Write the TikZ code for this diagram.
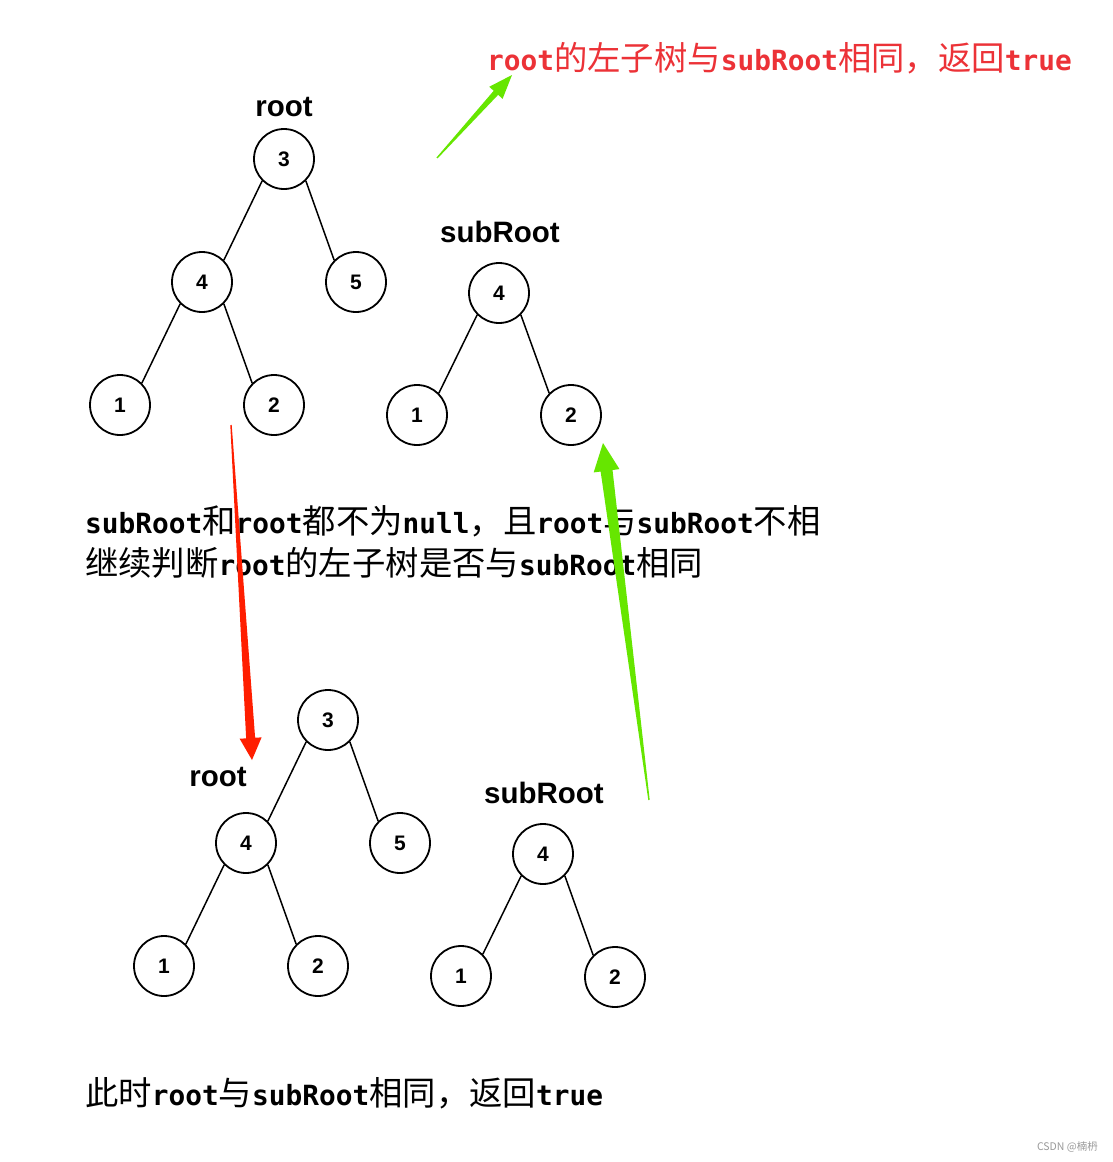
\documentclass[tikz,border=0pt]{standalone}
\usepackage{fontspec}
\setmainfont{DejaVu Sans Mono}
\newfontfamily\cjk[Scale=1.2]{Noto Sans CJK SC}
\newfontfamily\wmfont{Noto Sans CJK SC}
\newfontfamily\labb{Liberation Sans Bold}
\newcommand{\cj}[1]{{\cjk\mdseries #1}}
\usetikzlibrary{calc}
\definecolor{arrgreen}{RGB}{102,230,0}
\definecolor{arrred}{RGB}{255,30,0}
\definecolor{txtred}{RGB}{236,50,55}
\tikzset{
  tn/.style={circle,draw=black,line width=1.8pt,minimum size=60pt,inner sep=0pt,fill=white,
    font=\labb\fontsize{21}{24}\selectfont},
  ed/.style={line width=1.5pt,black},
  tlabel/.style={font=\labb\fontsize{29.5}{34}\selectfont,inner sep=0pt},
  desc/.style={anchor=base west,inner sep=0pt,font=\bfseries\fontsize{27.8}{34}\selectfont},
}
\newcommand{\fatarrow}[6]{% tail, tip, headlen, headhalf, shafthalf, color
  \fill[#6] ($(#1)!0.7pt!90:(#2)$) -- ($($(#2)!#3!(#1)$)!#5!90:(#2)$)
    -- ($($(#2)!#3!(#1)$)!#4!90:(#2)$) -- (#2)
    -- ($($(#2)!#3!(#1)$)!#4!-90:(#2)$) -- ($($(#2)!#3!(#1)$)!#5!-90:(#2)$)
    -- ($(#1)!0.7pt!-90:(#2)$) -- cycle;}
\newcommand{\kids}[3]{\draw[ed] (#1.south west) -- (#2.north east); \draw[ed] (#1.south east) -- (#3.north west);}
\begin{document}
\begin{tikzpicture}[x=1pt,y=-1pt]
\useasboundingbox[fill=white] (0,0) rectangle (1112,1162);
% top tree
\node[tlabel] (rl1) at (284,107) {root};
\node[tn] (a3) at (284,159) {3};
\node[tn] (a4) at (202,282) {4};
\node[tn] (a5) at (356,282) {5};
\node[tn] (a1) at (120,405) {1};
\node[tn] (a2) at (274,405) {2};
\kids{a3}{a4}{a5}
\kids{a4}{a1}{a2}
% top subRoot
\node[tlabel] (sl1) at (500,232) {subRoot};
\node[tn] (b4) at (499,293) {4};
\node[tn] (b1) at (417,415) {1};
\node[tn] (b2) at (571,415) {2};
\kids{b4}{b1}{b2}
% bottom tree
\node[tlabel] (rl2) at (218,777) {root};
\node[tn] (c3) at (328,720) {3};
\node[tn] (c4) at (246,843) {4};
\node[tn] (c5) at (400,843) {5};
\node[tn] (c1) at (164,966) {1};
\node[tn] (c2) at (318,966) {2};
\kids{c3}{c4}{c5}
\kids{c4}{c1}{c2}
% bottom subRoot
\node[tlabel] (sl2) at (544,793) {subRoot};
\node[tn] (d4) at (543,854) {4};
\node[tn] (d1) at (461,976) {1};
\node[tn] (d2) at (615,977) {2};
\kids{d4}{d1}{d2}
% texts
\node[desc,text=txtred] (t0) at (487,70) {root\cj{的左子树与}subRoot\cj{相同，返回}true};
\begin{scope}
\clip (0,480) rectangle (820,545);
\node[desc] (t1) at (85,533) {subRoot\cj{和}root\cj{都不为}null\cj{，且}root\cj{与}subRoot\cj{不相}};
\end{scope}
\node[desc] (t2) at (85,575) {\cj{继续判断}root\cj{的左子树是否与}subRoot\cj{相同}};
\node[desc] (t3) at (85,1105) {\cj{此时}root\cj{与}subRoot\cj{相同，返回}true};
\node[anchor=east,inner sep=0pt,text=gray!80,font=\wmfont\fontsize{10.5}{12}\selectfont] (wm) at (1098,1147) {CSDN @楠枬};
% arrows
\coordinate (g1t) at (437,158); \coordinate (g1p) at (512,75);
\coordinate (rt) at (231,425); \coordinate (rp) at (252,760);
\coordinate (g2t) at (649,800); \coordinate (g2p) at (603,443);
\fatarrow{g1t}{g1p}{24pt}{9pt}{3pt}{arrgreen}
\fatarrow{rt}{rp}{22pt}{11pt}{4.5pt}{arrred}
\fatarrow{g2t}{g2p}{28pt}{13pt}{6pt}{arrgreen}
\end{tikzpicture}
\end{document}
